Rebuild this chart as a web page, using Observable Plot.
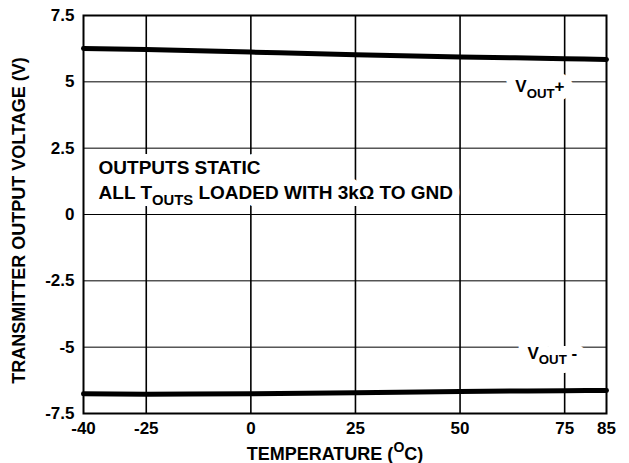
<!DOCTYPE html>
<html>
<head>
<meta charset="utf-8">
<script src="https://cdn.jsdelivr.net/npm/d3@7"></script>
<script src="https://cdn.jsdelivr.net/npm/@observablehq/plot@0.6"></script>
<style>
  html, body { margin: 0; padding: 0; background: #fff; }
  svg { display: block; }
</style>
</head>
<body>
<script>
// ---- data ----
const temperatures = [-40, -25, 0, 25, 50, 75, 85];
const voutPlus = [6.26, 6.22, 6.12, 6.02, 5.94, 5.87, 5.84];
const voutMinus = [-6.76, -6.77, -6.76, -6.72, -6.67, -6.64, -6.63];
const xTicks = [-40, -25, 0, 25, 50, 75, 85];
const xGrid = [-25, 0, 25, 50, 75];
const yTicks = [-7.5, -5, -2.5, 0, 2.5, 5, 7.5];
const yGrid = [-5, -2.5, 0, 2.5, 5];
const seriesLabels = [
  {text: "V_{OUT}+", x: 63.2, y: 4.6},
  {text: "V_{OUT} -", x: 66.1, y: -5.43}
];
const noteLines = [
  {text: "OUTPUTS STATIC", x: -36.4, y: 1.54},
  {text: "ALL T_{OUTS} LOADED WITH 3kΩ TO GND", x: -36.4, y: 0.6}
];
const xTitle = "TEMPERATURE (^{O}C)";
const yTitle = "TRANSMITTER OUTPUT VOLTAGE (V)";

const rows = temperatures.flatMap((t, i) => [
  {series: "plus", t, v: voutPlus[i]},
  {series: "minus", t, v: voutMinus[i]}
]);

const font = "'Liberation Sans', Arial, Helvetica, sans-serif";

const noteOpts = {x: "x", y: "y", text: "text", textAnchor: "start", lineAnchor: "bottom", fontSize: 19, fontWeight: "bold"};
const labelOpts = {x: "x", y: "y", text: "text", textAnchor: "start", lineAnchor: "bottom", fontSize: 17, fontWeight: "bold"};

const chart = Plot.plot({
  width: 629,
  height: 463,
  marginLeft: 83,
  marginRight: 23,
  marginTop: 15,
  marginBottom: 50,
  style: {fontFamily: font, fontWeight: "bold", fontSize: "16px", color: "black", background: "white"},
  x: {domain: [-40, 85]},
  y: {domain: [-7.5, 7.5]},
  marks: [
    Plot.gridX(xGrid, {stroke: "black", strokeOpacity: 1, strokeWidth: 1.6}),
    Plot.gridY(yGrid, {stroke: "black", strokeOpacity: 1, strokeWidth: 1}),
    // white halos behind the annotations
    Plot.text(noteLines, {...noteOpts, fill: "white", stroke: "white", strokeWidth: 14}),
    Plot.text(seriesLabels, {...labelOpts, fill: "white", stroke: "white", strokeWidth: 18}),
    Plot.text(noteLines, {...noteOpts, fill: "black"}),
    Plot.text(seriesLabels, {...labelOpts, fill: "black"}),
    Plot.line(rows, {x: "t", y: "v", z: "series", stroke: "black", strokeWidth: 5, curve: "monotone-x"}),
    Plot.frame({stroke: "black", strokeWidth: 2}),
    Plot.axisX({ticks: xTicks, tickSize: 0, tickPadding: 8, tickFormat: d => String(d), label: null, fontSize: 17}),
    Plot.axisY({ticks: yTicks, tickSize: 0, tickPadding: 9, tickFormat: d => String(d), label: null, fontSize: 17}),
    Plot.text([xTitle], {frameAnchor: "bottom", dy: 46, dx: -10, lineAnchor: "bottom", fontSize: 18, fontWeight: "bold", fill: "black"}),
    Plot.text([yTitle], {frameAnchor: "left", textAnchor: "middle", dx: -64, dy: 6, rotate: -90, fontSize: 18, fontWeight: "bold", fill: "black"})
  ]
});

// turn _{...} and ^{...} into real sub/superscript tspans
function richify(svg) {
  d3.select(svg).selectAll("text").each(function() {
    const el = this;
    const t = el.textContent;
    if (!/[_^]\{/.test(t)) return;
    el.textContent = "";
    const re = /([_^])\{([^}]*)\}/g;
    let last = 0, m, pending = 0;
    const sel = d3.select(el);
    while ((m = re.exec(t)) !== null) {
      if (m.index > last) {
        const ts = sel.append("tspan").text(t.slice(last, m.index));
        if (pending) { ts.attr("dy", `${-pending}em`); pending = 0; }
      }
      const shift = m[1] === "_" ? 0.32 : -0.42; // in parent em
      const ts = sel.append("tspan").attr("font-size", "78%").text(m[2]);
      ts.attr("dy", `${(shift - pending) / 0.78}em`);
      pending = shift;
      last = re.lastIndex;
    }
    if (last < t.length) {
      const ts = sel.append("tspan").text(t.slice(last));
      if (pending) ts.attr("dy", `${-pending}em`);
    }
  });
}
richify(chart);
document.body.appendChild(chart);
</script>
</body>
</html>
